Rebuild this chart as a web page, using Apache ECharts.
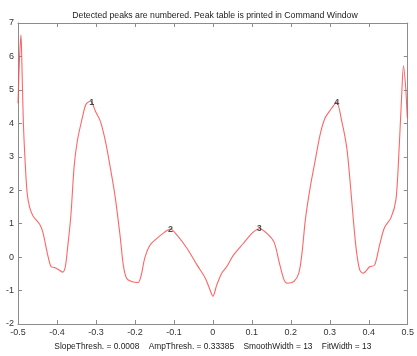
<!DOCTYPE html>
<html>
<head>
<meta charset="utf-8">
<script src="https://cdn.jsdelivr.net/npm/echarts@6/dist/echarts.min.js"></script>
<style>
html,body{margin:0;padding:0;background:#fff;}
#chart{width:417px;height:356px;}
</style>
</head>
<body>
<div id="chart"></div>
<script>
var xValues = [-0.5, -0.4962, -0.4924, -0.4907, -0.4866, -0.4823, -0.4765, -0.4697, -0.4614, -0.4444, -0.4361, -0.4235, -0.4149, -0.4066, -0.3939, -0.3856, -0.3788, -0.373, -0.3644, -0.3561, -0.3477, -0.3351, -0.3265, -0.3182, -0.3131, -0.3013, -0.2886, -0.276, -0.2634, -0.2508, -0.2381, -0.2298, -0.2215, -0.2088, -0.1919, -0.1836, -0.175, -0.1619, -0.1457, -0.1245, -0.1093, -0.0909, -0.0657, -0.0404, -0.0194, -0.0076, 0, 0.0101, 0.0227, 0.0354, 0.0523, 0.0775, 0.1028, 0.1194, 0.1407, 0.1573, 0.1699, 0.1826, 0.1912, 0.2078, 0.2205, 0.229, 0.2374, 0.25, 0.2626, 0.2753, 0.2879, 0.3048, 0.3174, 0.3308, 0.3434, 0.3518, 0.3603, 0.3687, 0.377, 0.3856, 0.4023, 0.4149, 0.4275, 0.4402, 0.4571, 0.4697, 0.478, 0.4841, 0.4891, 0.4949, 0.4987, 0.5];
var yValues = [4.6, 5.92, 6.65, 6.12, 4.16, 2.99, 1.91, 1.47, 1.23, 0.98, 0.74, 0.05, -0.29, -0.31, -0.39, -0.45, -0.3, 0.25, 1.23, 2.69, 3.48, 4.16, 4.55, 4.65, 4.66, 4.36, 4.06, 3.48, 2.69, 1.81, 0.64, -0.24, -0.63, -0.73, -0.76, -0.53, -0.04, 0.35, 0.54, 0.74, 0.84, 0.64, 0.25, -0.24, -0.63, -0.97, -1.17, -0.83, -0.48, -0.29, 0.05, 0.4, 0.74, 0.85, 0.69, 0.44, -0.14, -0.68, -0.78, -0.73, -0.48, 0.15, 1.13, 2.11, 2.89, 3.67, 4.16, 4.45, 4.63, 4.06, 3.28, 2.3, 1.13, 0.15, -0.39, -0.48, -0.29, -0.24, 0.35, 0.88, 1.18, 1.72, 3.28, 4.75, 5.72, 5.04, 4.21, 4.15];
var peakX = [-0.311, -0.109, 0.119, 0.318];
var peakY = [4.63, 0.84, 0.85, 4.62];
var peakLabels = ['1', '2', '3', '4'];
var titleText = 'Detected peaks are numbered. Peak table is printed in Command Window';
var xAxisText = 'SlopeThresh. = 0.0008    AmpThresh. = 0.33385    SmoothWidth = 13    FitWidth = 13';

var lineData = xValues.map(function (x, i) { return [x, yValues[i]]; });
var peakData = peakX.map(function (x, i) { return { value: [x, peakY[i]], name: peakLabels[i] }; });

var axisColor = '#8c8c8c';
var fontFam = 'Liberation Sans, Arial, sans-serif';
var labelStyle = { color: '#333', fontSize: 9, fontFamily: fontFam };

var chart = echarts.init(document.getElementById('chart'), null, { renderer: 'canvas' });
chart.setOption({
  animation: false,
  backgroundColor: '#fff',
  title: {
    text: titleText,
    left: 210, top: 6, textAlign: 'center',
    textStyle: { fontSize: 8.7, fontWeight: 'normal', color: '#222', fontFamily: fontFam }
  },
  grid: { left: 18, right: 3, top: 23, bottom: 26, containLabel: false },
  xAxis: [{
    type: 'value', min: -0.5, max: 0.5, interval: 0.1, position: 'bottom',
    name: xAxisText, nameLocation: 'middle', nameGap: 19,
    nameTextStyle: { color: '#222', fontSize: 8.4, fontFamily: fontFam },
    axisLine: { show: true, onZero: false, lineStyle: { color: axisColor, width: 1 } },
    axisTick: { show: true, inside: true, length: 4, lineStyle: { color: axisColor } },
    axisLabel: Object.assign({ margin: 4, formatter: function (v) { return String(Math.round(v * 10) / 10); } }, labelStyle),
    splitLine: { show: false }
  }, {
    type: 'value', min: -0.5, max: 0.5, interval: 0.1, position: 'top',
    axisLine: { show: true, onZero: false, lineStyle: { color: axisColor, width: 1 } },
    axisTick: { show: true, inside: true, length: 4, lineStyle: { color: axisColor } },
    axisLabel: { show: false }, splitLine: { show: false }
  }],
  yAxis: [{
    type: 'value', min: -2, max: 7, interval: 1, position: 'left',
    axisLine: { show: true, onZero: false, lineStyle: { color: axisColor, width: 1 } },
    axisTick: { show: true, inside: true, length: 4, lineStyle: { color: axisColor } },
    axisLabel: Object.assign({ margin: 4 }, labelStyle),
    splitLine: { show: false }
  }, {
    type: 'value', min: -2, max: 7, interval: 1, position: 'right',
    axisLine: { show: true, onZero: false, lineStyle: { color: axisColor, width: 1 } },
    axisTick: { show: true, inside: true, length: 4, lineStyle: { color: axisColor } },
    axisLabel: { show: false }, splitLine: { show: false }
  }],
  series: [{
    type: 'line', data: lineData, xAxisIndex: 0, yAxisIndex: 0,
    showSymbol: false, symbol: 'none', smooth: 0.3,
    lineStyle: { color: '#ff4a4a', width: 1.1, opacity: 0.85 },
    silent: true
  }, {
    type: 'scatter', data: peakData, xAxisIndex: 0, yAxisIndex: 0,
    symbolSize: 2, itemStyle: { color: 'rgba(0,0,0,0)' },
    label: {
      show: true, position: 'inside', formatter: function (p) { return p.name; },
      color: '#222', fontSize: 9, fontWeight: 'bold', fontFamily: fontFam
    },
    z: 5,
    silent: true
  }]
});
</script>
</body>
</html>
